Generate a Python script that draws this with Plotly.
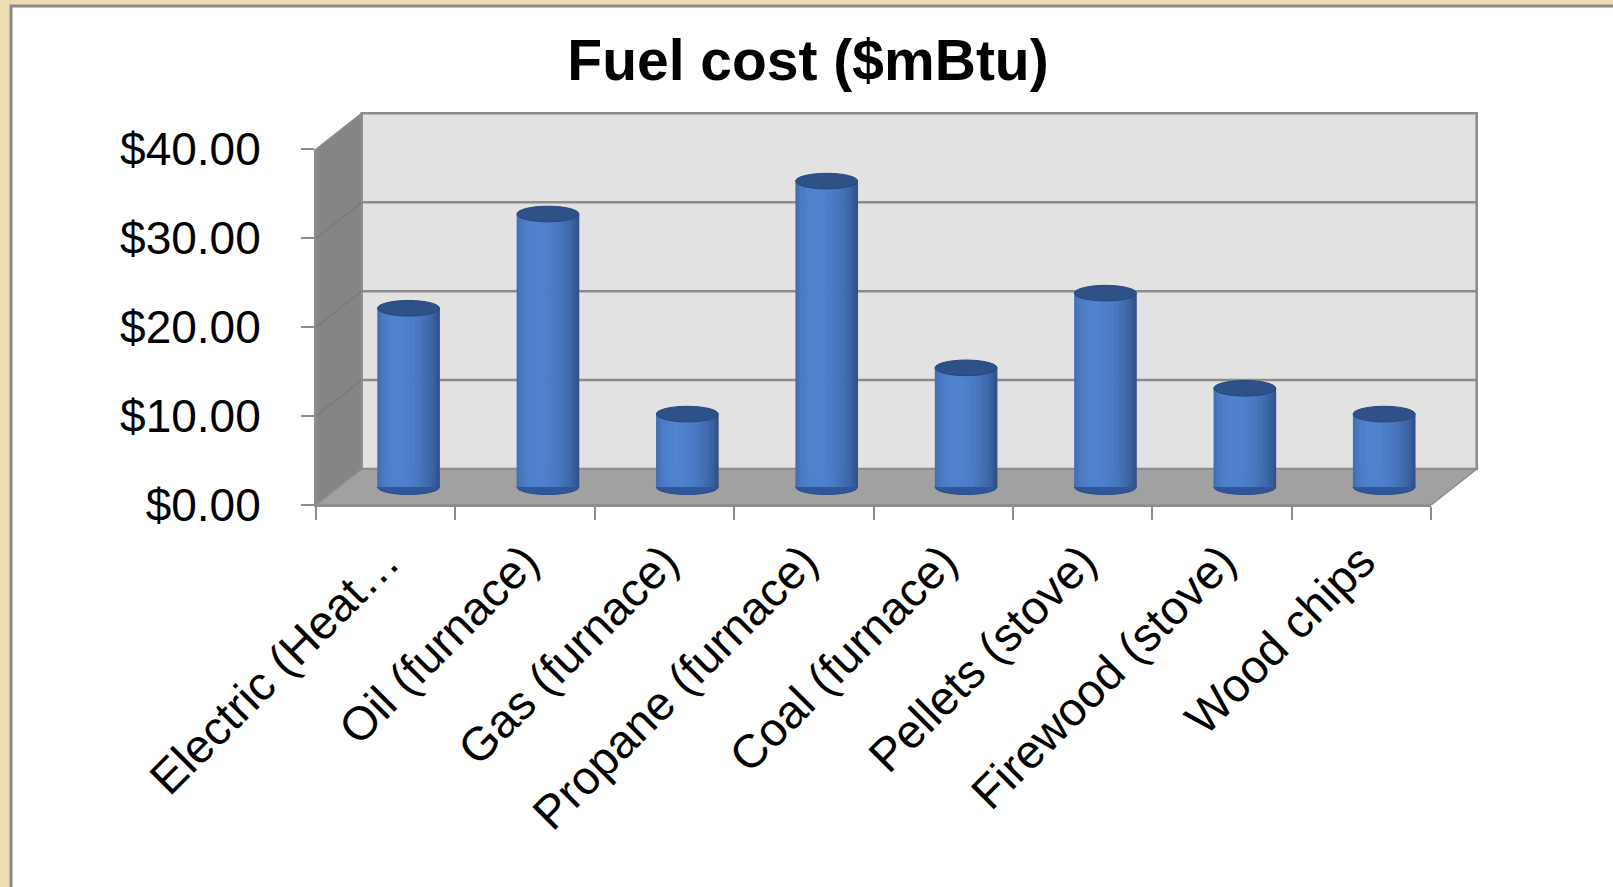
import math
import plotly.graph_objects as go

# ---------------- data ----------------
categories = ["Electric (Heat…", "Oil (furnace)", "Gas (furnace)", "Propane (furnace)",
              "Coal (furnace)", "Pellets (stove)", "Firewood (stove)", "Wood chips"]
costs = [20.1, 30.7, 8.2, 34.4, 13.4, 21.8, 11.1, 8.2]
y_ticks = [0, 10, 20, 30, 40]
y_tick_text = ["$0.00", "$10.00", "$20.00", "$30.00", "$40.00"]
title_text = "Fuel cost ($mBtu)"

# ---------------- layout geometry (pixels) ----------------
W, H = 1613, 887
FX0, FX1 = 316, 1431          # front plane x extent
FY0, FYTOP = 505, 149.3       # front plane y of value 0 and value 40
YMAX = 40
DX, DY = 45.7, -36.0          # depth offset front -> back
BAR_W = 0.445                 # cylinder width in category units
FONT = "Liberation Sans, Arial, sans-serif"
GRID = "#8C8C8C"


def yf(v):
    return FY0 - v * (FY0 - FYTOP) / YMAX


def P(px, py):
    return px / W, 1 - py / H


def path(points):
    s = ""
    for i, (px, py) in enumerate(points):
        x, y = P(px, py)
        s += ("M" if i == 0 else "L") + f"{x:.5f},{y:.5f} "
    return s + "Z"


def line(p1, p2, color=GRID, width=2):
    x0, y0 = P(*p1)
    x1, y1 = P(*p2)
    return dict(type="line", xref="paper", yref="paper", x0=x0, y0=y0, x1=x1, y1=y1,
                line=dict(color=color, width=width), layer="below")


shapes = []
# white chart area with grey frame
shapes.append(dict(type="rect", xref="paper", yref="paper",
                   x0=11 / W, y0=-0.05, x1=1.05, y1=1 - 6 / H,
                   fillcolor="white", line=dict(color="#8A8A8A", width=3), layer="below"))
# side wall
shapes.append(dict(type="path", xref="paper", yref="paper", layer="below",
                   path=path([(FX0, yf(YMAX)), (FX0 + DX, yf(YMAX) + DY),
                              (FX0 + DX, yf(0) + DY), (FX0, yf(0))]),
                   fillcolor="#858585", line=dict(color=GRID, width=1.5)))
# back wall
shapes.append(dict(type="path", xref="paper", yref="paper", layer="below",
                   path=path([(FX0 + DX, yf(YMAX) + DY), (FX1 + DX, yf(YMAX) + DY),
                              (FX1 + DX, yf(0) + DY), (FX0 + DX, yf(0) + DY)]),
                   fillcolor="#E2E2E2", line=dict(color=GRID, width=2.5)))
# floor
shapes.append(dict(type="path", xref="paper", yref="paper", layer="below",
                   path=path([(FX0, yf(0)), (FX0 + DX, yf(0) + DY),
                              (FX1 + DX, yf(0) + DY), (FX1, yf(0))]),
                   fillcolor="#A1A1A1", line=dict(color=GRID, width=1.5)))
# gridlines on back wall and side wall
for v in y_ticks[1:-1]:
    shapes.append(line((FX0 + DX, yf(v) + DY), (FX1 + DX, yf(v) + DY), width=2.5))
    shapes.append(line((FX0, yf(v)), (FX0 + DX, yf(v) + DY), color="#7A7A7A", width=1.5))

# cylinders: bottom and top ellipses
for i, v in enumerate(costs):
    shapes.append(dict(type="circle", xref="x2", yref="y2", layer="below",
                       x0=i - BAR_W / 2, x1=i + BAR_W / 2,
                       ysizemode="pixel", yanchor=0, y0=-7.5, y1=7.5,
                       fillcolor="#30569A", line=dict(color="#2A4C86", width=1)))
    shapes.append(dict(type="circle", xref="x2", yref="y2", layer="above",
                       x0=i - BAR_W / 2, x1=i + BAR_W / 2,
                       ysizemode="pixel", yanchor=v, y0=-7.8, y1=7.8,
                       fillcolor="#2E5188", line=dict(color="#27467A", width=1)))

fig = go.Figure()

# invisible trace to establish the front category axis
fig.add_trace(go.Scatter(x=categories, y=costs, mode="markers", marker=dict(opacity=0),
                         xaxis="x", yaxis="y", hoverinfo="skip", showlegend=False))

# shaded cylinder bodies built from thin vertical strips
N = 26
dark = (30, 56, 100)
light = (80, 130, 207)
theta_l = -0.35
for k in range(N):
    u = -1 + (2 * k + 1) / N
    th = math.asin(max(-1, min(1, u)))
    b = 0.5 + 0.5 * math.cos(th - theta_l)
    b = max(0.0, min(1.0, b)) ** 1.3
    col = tuple(int(dark[j] + (light[j] - dark[j]) * b) for j in range(3))
    sw = BAR_W / N
    fig.add_trace(go.Bar(x=categories, y=costs, xaxis="x2", yaxis="y2",
                         width=sw * 1.25, offset=-BAR_W / 2 + k * sw - sw * 0.1,
                         marker=dict(color="rgb(%d,%d,%d)" % col, line=dict(width=0)),
                         hovertemplate="%{x}: $%{y:.2f}<extra></extra>",
                         hoverinfo=None if k == N // 2 else "skip",
                         showlegend=False))

# axis domains
fx = [FX0 / W, FX1 / W]
fy = [1 - FY0 / H, 1 - FYTOP / H]
mx = [(FX0 + DX / 2) / W, (FX1 + DX / 2) / W]
ppv = (FY0 - FYTOP) / YMAX
y2_lo, y2_hi = -3, 42
my = [1 - (FY0 + DY / 2 + (-y2_lo) * ppv) / H, 1 - (FY0 + DY / 2 - y2_hi * ppv) / H]

fig.update_layout(
    template="none",
    width=W, height=H,
    margin=dict(l=0, r=0, t=0, b=0, pad=0, autoexpand=False),
    paper_bgcolor="#EEDDB4",
    plot_bgcolor="rgba(0,0,0,0)",
    barmode="overlay",
    showlegend=False,
    font=dict(family=FONT, color="black"),
    title=dict(text="<b>" + title_text + "</b>", x=808 / W, xanchor="center", xref="paper",
               y=1 - 60 / H, yanchor="middle", yref="container",
               font=dict(size=57, family=FONT, color="black")),
    xaxis=dict(domain=fx, type="category", categoryorder="array", categoryarray=categories,
               range=[-0.5, len(categories) - 0.5], tickson="boundaries", automargin=False,
               ticks="outside", ticklen=13, tickwidth=2, tickcolor=GRID,
               showline=True, linecolor=GRID, linewidth=2, showgrid=False, zeroline=False,
               tickangle=-45, tickfont=dict(size=47, family=FONT), ticklabelstandoff=8,
               fixedrange=True),
    yaxis=dict(domain=fy, range=[0, YMAX], tickmode="array", tickvals=y_ticks,
               ticktext=y_tick_text, automargin=False,
               ticks="outside", ticklen=13, tickwidth=2, tickcolor=GRID,
               showline=True, linecolor=GRID, linewidth=2, showgrid=False, zeroline=False,
               tickfont=dict(size=46, family=FONT), ticklabelstandoff=31, fixedrange=True),
    xaxis2=dict(domain=mx, type="category", categoryorder="array", categoryarray=categories,
                range=[-0.5, len(categories) - 0.5], anchor="y2", visible=False,
                automargin=False, fixedrange=True),
    yaxis2=dict(domain=my, range=[y2_lo, y2_hi], anchor="x2", visible=False,
                automargin=False, fixedrange=True),
    shapes=shapes,
)

fig.write_html("out.html")
